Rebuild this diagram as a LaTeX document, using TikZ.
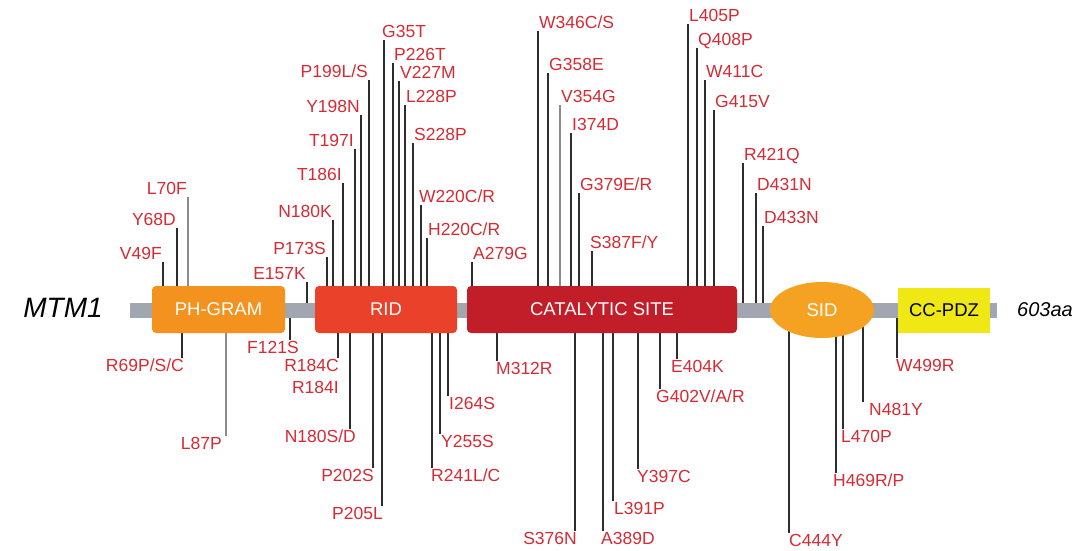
\documentclass[tikz,border=0pt]{standalone}
\usepackage{fontspec}
\setmainfont{Liberation Sans}
\usetikzlibrary{shapes.geometric,backgrounds}
\definecolor{labred}{RGB}{213,43,52}
\definecolor{barc}{RGB}{162,166,176}
\definecolor{phc}{RGB}{243,146,30}
\definecolor{ridc}{RGB}{234,66,42}
\definecolor{catc}{RGB}{194,30,42}
\definecolor{sidc}{RGB}{245,162,35}
\definecolor{ccc}{RGB}{240,232,20}
\definecolor{stemc}{RGB}{45,45,45}
\definecolor{stemlc}{RGB}{140,140,140}
\tikzset{
  lab/.style={text=labred,font=\fontsize{17.5}{19}\selectfont,inner sep=1pt,text height=12.5pt,text depth=1.5pt},
  stem/.style={draw=stemc,line width=1.6pt},
  stemlt/.style={draw=stemlc,line width=1.6pt},
  dombox/.style={rounded corners=4pt,inner sep=0pt,text=white,font=\fontsize{18.5}{20}\selectfont},
}
% name, label, x, y, anchor side, xshift, stem style
\newcommand\mup[7]{%
  \coordinate (#1) at (#3,#4);
  \node[lab,anchor=south #5,xshift=#6] (#1t) at (#1) {#2};
  \begin{pgfonlayer}{background}\draw[#7] (#1) -- (#1 |- bar.center);\end{pgfonlayer}
}
\newcommand\mdn[7]{%
  \coordinate (#1) at (#3,#4);
  \node[lab,anchor=north #5,xshift=#6] (#1t) at (#1) {#2};
  \begin{pgfonlayer}{background}\draw[#7] (#1) -- (#1 |- bar.center);\end{pgfonlayer}
}
\begin{document}
\begin{tikzpicture}[x=1pt,y=-1pt]
\begin{pgfonlayer}{background}
\fill[white] (0,0) rectangle (1089,551);
\end{pgfonlayer}
\useasboundingbox (0,0) rectangle (1089,551);
% backbone
\node[fill=barc,minimum width=867pt,minimum height=15pt,inner sep=0pt] (bar) at (563.5,310.5) {};
% domains
\node[dombox,fill=phc,minimum width=133pt,minimum height=47pt] (ph) at (218.5,309.5) {PH-GRAM};
\node[dombox,fill=ridc,minimum width=142pt,minimum height=47pt] (rid) at (386,309.5) {RID};
\node[dombox,fill=catc,minimum width=270pt,minimum height=47pt] (cat) at (602,309.5) {CATALYTIC SITE};
\node[ellipse,fill=sidc,minimum width=104pt,minimum height=56pt,inner sep=0pt,text=white,font=\fontsize{18.5}{20}\selectfont] (sid) at (822,310) {SID};
\node[fill=ccc,minimum width=92pt,minimum height=45pt,inner sep=0pt,font=\fontsize{18.5}{20}\selectfont] (cc) at (944,310.5) {CC-PDZ};
% end labels
\node[font=\fontsize{28}{30}\selectfont\itshape] (mtm) at (63,308) {MTM1};
\node[font=\fontsize{20}{22}\selectfont\itshape] (aa) at (1045,310) {603aa};
% mutations above
\mup{m1}{L70F}{188}{197}{east}{0}{stemlt}
\mup{m2}{Y68D}{177}{228}{east}{0}{stem}
\mup{m3}{V49F}{163}{262}{east}{0}{stem}
\mup{m4}{E157K}{307}{282}{east}{0}{stem}
\mup{m5}{P173S}{327}{257}{east}{0}{stem}
\mup{m6}{N180K}{333}{220}{east}{0}{stem}
\mup{m7}{T186I}{343}{183}{east}{0}{stem}
\mup{m8}{T197I}{355}{149}{east}{0}{stem}
\mup{m9}{Y198N}{361}{115}{east}{0}{stem}
\mup{m10}{P199L/S}{369}{80}{east}{0}{stem}
\mup{m11}{G35T}{384}{40}{west}{-3}{stem}
\mup{m12}{P226T}{393}{63}{west}{0}{stem}
\mup{m13}{V227M}{399}{81}{west}{0}{stem}
\mup{m14}{L228P}{405}{105}{west}{0}{stem}
\mup{m15}{S228P}{413}{143}{west}{0}{stem}
\mup{m16}{W220C/R}{421}{205}{west}{-3}{stem}
\mup{m17}{H220C/R}{427}{238}{west}{0}{stem}
\mup{m18}{A279G}{472}{262}{west}{0}{stem}
\mup{m19}{W346C/S}{538}{31}{west}{0}{stem}
\mup{m20}{G358E}{548}{73}{west}{0}{stem}
\mup{m21}{V354G}{560}{105}{west}{0}{stemlt}
\mup{m22}{I374D}{571}{133}{west}{0}{stem}
\mup{m23}{G379E/R}{579}{193}{west}{0}{stem}
\mup{m24}{S387F/Y}{592}{251}{west}{-3}{stem}
\mup{m25}{L405P}{688}{24}{west}{0}{stem}
\mup{m26}{Q408P}{697}{48}{west}{0}{stem}
\mup{m27}{W411C}{705}{80}{west}{0}{stem}
\mup{m28}{G415V}{714}{110}{west}{0}{stem}
\mup{m29}{R421Q}{743}{163}{west}{0}{stem}
\mup{m30}{D431N}{756}{193}{west}{0}{stem}
\mup{m31}{D433N}{763}{226}{west}{0}{stem}
% mutations below
\mdn{b1}{R69P/S/C}{182}{358}{east}{3}{stem}
\mdn{b2}{L87P}{226}{436}{east}{-3}{stemlt}
\mdn{b3}{F121S}{290}{340}{east}{10}{stem}
\mdn{b4}{R184C}{338}{358}{east}{2}{stem}
\node[lab,anchor=north east] (b5t) at (340,380) {R184I};
\mdn{b6}{N180S/D}{350}{429}{east}{7}{stem}
\mdn{b7}{P202S}{373}{468}{east}{2}{stem}
\mdn{b8}{P205L}{382}{506}{east}{2}{stem}
\mdn{b9}{R241L/C}{432}{468}{west}{-2}{stem}
\mdn{b10}{Y255S}{440}{434}{west}{0}{stem}
\mdn{b11}{I264S}{448}{396}{west}{0}{stem}
\mdn{b12}{M312R}{497}{361}{west}{-2}{stem}
\mdn{b13}{S376N}{575}{531}{east}{3}{stem}
\mdn{b14}{A389D}{603}{531}{west}{-3}{stem}
\mdn{b15}{L391P}{613}{501}{west}{0}{stem}
\mdn{b16}{Y397C}{638}{469}{west}{-2}{stem}
\mdn{b17}{E404K}{677}{359}{west}{-7}{stem}
\mdn{b18}{G402V/A/R}{660}{389}{west}{-5}{stem}
\mdn{b19}{C444Y}{789}{533}{west}{-1}{stem}
\mdn{b20}{H469R/P}{836}{473}{west}{-4}{stem}
\mdn{b21}{L470P}{843}{429}{west}{-3}{stem}
\mdn{b22}{N481Y}{863}{402}{west}{5}{stem}
\mdn{b23}{W499R}{897}{358}{west}{-2}{stem}
\end{tikzpicture}
\end{document}
